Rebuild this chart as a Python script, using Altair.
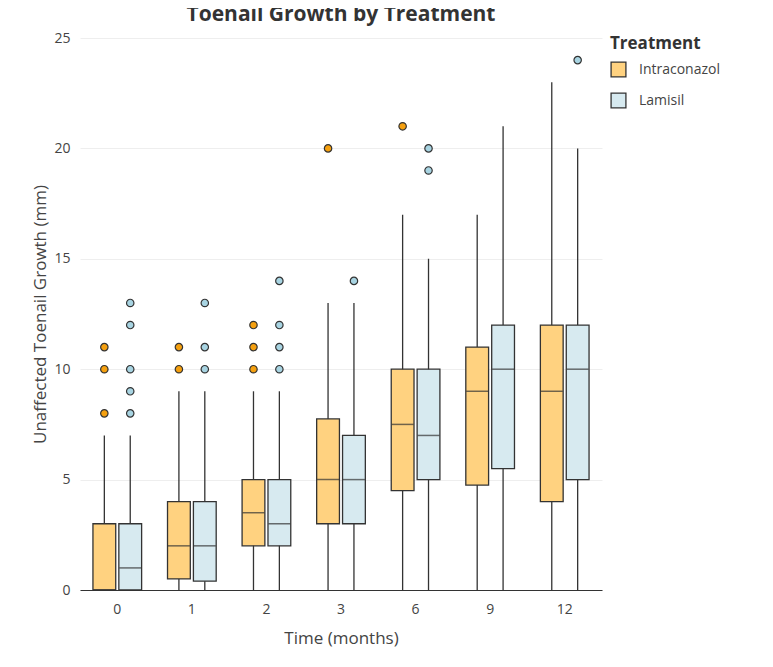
import altair as alt
import pandas as pd

times = ["0", "1", "2", "3", "6", "9", "12"]
treatments = ["Intraconazol", "Lamisil"]
itra_stats = [  # min, q1, median, q3, max
    (0, 0, 0, 3, 7), (0, 0.5, 2, 4, 9), (0, 2, 3.5, 5, 9), (0, 3, 5, 7.75, 13),
    (0, 4.5, 7.5, 10, 17), (0, 4.75, 9, 11, 17), (0, 4, 9, 12, 23)]
lam_stats = [
    (0, 0, 1, 3, 7), (0, 0.4, 2, 4, 9), (0, 2, 3, 5, 9), (0, 3, 5, 7, 13),
    (0, 5, 7, 10, 15), (0, 5.5, 10, 12, 21), (0, 5, 10, 12, 20)]
itra_out = [[8, 10, 11], [10, 11], [10, 11, 12], [20], [21], [], []]
lam_out = [[8, 9, 10, 12, 13], [10, 11, 13], [10, 11, 12, 14], [14], [19, 20], [], [24]]

rows, orows = [], []
for tr, stats, outs in [("Intraconazol", itra_stats, itra_out), ("Lamisil", lam_stats, lam_out)]:
    for t, s, o in zip(times, stats, outs):
        rows.append(dict(time=t, trt=tr, lo=s[0], q1=s[1], med=s[2], q3=s[3], hi=s[4]))
        for v in o:
            orows.append(dict(time=t, trt=tr, v=v))
df = pd.DataFrame(rows)
dfo = pd.DataFrame(orows)

FONT = "Open Sans"
fill = alt.Scale(domain=treatments, range=["#FFD280", "#D7EAF0"])
ptc = alt.Scale(domain=treatments, range=["#F5A00F", "#A8D4E2"])
x = alt.X("time:N", sort=times, title="Time (months)",
          scale=alt.Scale(paddingInner=0, paddingOuter=0),
          axis=alt.Axis(labelAngle=0, ticks=False, labelPadding=12, domainColor="#333",
                        labelFontSize=14, titleFontSize=17, titleFontWeight="normal",
                        titlePadding=14, labelColor="#444", titleColor="#444",
                        labelFont=FONT, titleFont=FONT))
xo = alt.XOffset("trt:N", sort=treatments, scale=alt.Scale(paddingInner=0.12, paddingOuter=0.5))
yscale = alt.Scale(domain=[0, 25], nice=False)
yax = alt.Axis(values=[0, 5, 10, 15, 20, 25], domain=False, ticks=False, gridColor="#eee",
               labelFontSize=14, titleFontSize=17, titleFontWeight="normal", labelPadding=10,
               labelColor="#444", titleColor="#444", labelFont=FONT, titleFont=FONT)

base = alt.Chart(df)
whisk = base.mark_rule(color="#333", strokeWidth=1.3).encode(
    x=x, xOffset=xo, y=alt.Y("lo:Q", scale=yscale, axis=yax,
                              title="Unaffected Toenail Growth (mm)"), y2="hi:Q")
box = base.mark_bar(stroke="#333", strokeWidth=1.3).encode(
    x=x, xOffset=xo, y="q1:Q", y2="q3:Q",
    fill=alt.Fill("trt:N", scale=fill, title="Treatment",
                  legend=alt.Legend(orient="none", legendX=530, legendY=-2, symbolType="square",
                                    symbolSize=220, symbolStrokeColor="#333", symbolStrokeWidth=1.3,
                                    titleFontSize=17, labelFontSize=14, labelColor="#444",
                                    titleColor="#333", rowPadding=10, labelOffset=12,
                                    titleFont=FONT, labelFont=FONT, titlePadding=8)))
med = base.mark_tick(color="#333", thickness=1.5, size=22, orient="horizontal").encode(
    x=x, xOffset=xo, y="med:Q")
pts = alt.Chart(dfo).mark_point(filled=True, size=55, stroke="#333", strokeWidth=1.2, opacity=1).encode(
    x=x, xOffset=xo, y="v:Q", fill=alt.Fill("trt:N", scale=ptc, legend=None))

chart = alt.layer(whisk, box, med, pts).resolve_scale(fill="independent").properties(
    width=522, height=552,
    autosize=alt.AutoSizeParams(type="none"),
    padding={"left": 72, "top": 30, "right": 150, "bottom": 70},
    title=alt.TitleParams("Toenail Growth by Treatment", fontSize=21, fontWeight="bold",
                          color="#333", offset=6, anchor="middle", font=FONT),
).configure_view(stroke=None)

chart.save("out.html", embed_options={"renderer": "svg", "actions": False})
